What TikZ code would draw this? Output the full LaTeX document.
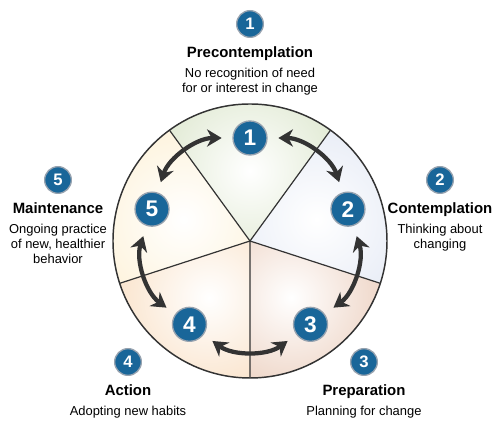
\documentclass[tikz,border=0pt]{standalone}
\usepackage{fontspec}
\setmainfont{Liberation Sans}
\usetikzlibrary{arrows.meta,positioning}
\definecolor{badgeblue}{RGB}{25,102,153}
\definecolor{badgering}{RGB}{150,162,175}
\definecolor{linegray}{RGB}{51,51,51}
\definecolor{pregreen}{RGB}{214,226,196}
\definecolor{conblue}{RGB}{224,230,243}
\definecolor{prepink}{RGB}{232,198,178}
\definecolor{actpeach}{RGB}{248,218,186}
\definecolor{maincream}{RGB}{253,239,208}
\tikzset{>={Stealth[length=11pt,width=13pt,inset=3.5pt]}}
\tikzset{badge/.style={shape=circle, draw=badgering, line width=1pt, fill=badgeblue,
    text=white, inner sep=0pt, minimum size=25.5pt, font=\fontsize{17}{17}\selectfont\bfseries}}
\tikzset{keybadge/.style={badge, minimum size=20pt, font=\fontsize{12.5}{12.5}\selectfont\bfseries}}
\tikzset{stagetitle/.style={font=\fontsize{11.2}{13}\selectfont\bfseries, inner sep=0pt}}
\tikzset{stagetext/.style={font=\fontsize{9.7}{11.25}\selectfont, align=center, inner sep=0pt}}
\tikzset{cycle arrow/.style={<->, draw=linegray, line width=3.2pt,
    shorten <=8pt, shorten >=8pt, bend left=36}}
% one slice of the wheel, white in the middle
\newcommand{\stagesector}[3]{%
  \begin{scope}
    \clip (0,0) -- (#1:137) arc (#1:#2:137) -- cycle;
    \shade[inner color=white, outer color=#3] ({(#1+#2)/2}:70) circle (130);
  \end{scope}}

\begin{document}
\begin{tikzpicture}[x=0.75pt, y=0.75pt]
    \useasboundingbox (-250,-197) rectangle (251,241);

    \stagesector{54}{126}{pregreen}
    \stagesector{-18}{54}{conblue}
    \stagesector{-90}{-18}{prepink}
    \stagesector{-162}{-90}{actpeach}
    \stagesector{126}{198}{maincream}

    \draw[draw=linegray, line width=0.9pt] (54:137) -- (0,0) -- (126:137);
    \draw[draw=linegray, line width=0.9pt] (198:137) -- (0,0) -- (270:137);
    \draw[draw=linegray, line width=0.9pt] (0,0) -- (342:137);
    \draw[draw=linegray, line width=1.1pt] (0,0) circle (137);

    \node(b1)[badge] at (90:103)   {1};
    \node(b2)[badge] at (18:103)   {2};
    \node(b3)[badge] at (-54:103)  {3};
    \node(b4)[badge] at (-126:103) {4};
    \node(b5)[badge] at (162:103)  {5};

    \draw [cycle arrow] (b1) to (b2);
    \draw [cycle arrow] (b2) to (b3);
    \draw [cycle arrow] (b3) to (b4);
    \draw [cycle arrow] (b4) to (b5);
    \draw [cycle arrow] (b5) to (b1);

    % labels round the wheel
    \node(k1)[keybadge] at (0,217)     {1};
    \node(k2)[keybadge] at (190,61)    {2};
    \node(k3)[keybadge] at (114,-121)  {3};
    \node(k4)[keybadge] at (-122,-121) {4};
    \node(k5)[keybadge] at (-192,61)   {5};

    \node(t1)[stagetitle] [below=25pt of k1.center, anchor=base] {Precontemplation};
    \node(t2)[stagetitle] [below=25pt of k2.center, anchor=base] {Contemplation};
    \node(t3)[stagetitle] [below=25pt of k3.center, anchor=base] {Preparation};
    \node(t4)[stagetitle] [below=25pt of k4.center, anchor=base] {Action};
    \node(t5)[stagetitle] [below=25pt of k5.center, anchor=base] {Maintenance};

    \node(d1)[stagetext] [below=8pt of t1.base] {No recognition of need\\for or interest in change};
    \node(d2)[stagetext] [below=8pt of t2.base] {Thinking about\\changing};
    \node(d3)[stagetext] [below=8pt of t3.base] {Planning for change};
    \node(d4)[stagetext] [below=8pt of t4.base] {Adopting new habits};
    \node(d5)[stagetext] [below=8pt of t5.base] {Ongoing practice\\of new, healthier\\behavior};
\end{tikzpicture}
\end{document}
